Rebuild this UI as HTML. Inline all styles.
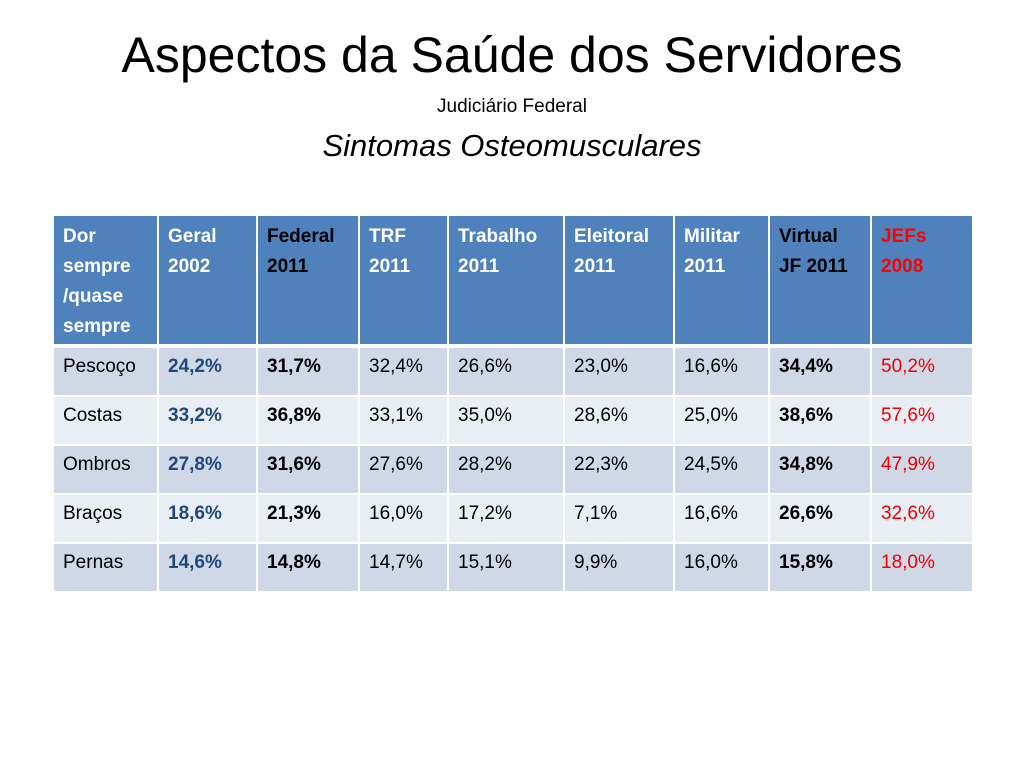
<!DOCTYPE html>
<html><head><meta charset="utf-8"><style>
body{margin:0;width:1024px;height:768px;background:#fff;font-family:"Liberation Sans",sans-serif;position:relative;overflow:hidden}
.t{position:absolute;left:0;width:1024px;text-align:center;color:#000}
table{position:absolute;left:52px;top:214px;border-collapse:collapse;table-layout:fixed}
td{border:2px solid #fff;padding:8px 0 0 9px;vertical-align:top;font-size:19px;white-space:nowrap}
thead td{background:#4F81BD;color:#fff;font-weight:bold;height:122px;line-height:30px;border-bottom:4px solid #fff;padding-top:6px}
tbody td{height:39px}
tbody tr:nth-child(odd) td{background:#D0D8E8}
tbody tr:nth-child(even) td{background:#E9EDF4}
.g{color:#1F497D;font-weight:bold}.b{font-weight:bold}.r{color:#E00}
thead .k{color:#000}thead .rr{color:#FF0000}
</style></head><body>
<div class="t" style="top:26px;font-size:50px">Aspectos da Saúde dos Servidores</div>
<div class="t" style="top:96px;font-size:19px">Judiciário Federal</div>
<div class="t" style="top:128px;font-size:31px;font-style:italic">Sintomas Osteomusculares</div>
<table>
<colgroup><col style="width:105px"><col style="width:99px"><col style="width:102px"><col style="width:89px"><col style="width:116px"><col style="width:110px"><col style="width:95px"><col style="width:102px"><col style="width:102px"></colgroup>
<thead><tr>
<td>Dor<br>sempre<br>/quase<br>sempre</td><td>Geral<br>2002</td><td class="k">Federal<br>2011</td><td>TRF<br>2011</td><td>Trabalho<br>2011</td><td>Eleitoral<br>2011</td><td>Militar<br>2011</td><td class="k">Virtual<br>JF 2011</td><td class="rr">JEFs<br>2008</td></tr></thead>
<tbody>
<tr><td>Pescoço</td><td class="g">24,2%</td><td class="b">31,7%</td><td>32,4%</td><td>26,6%</td><td>23,0%</td><td>16,6%</td><td class="b">34,4%</td><td class="r">50,2%</td></tr>
<tr><td>Costas</td><td class="g">33,2%</td><td class="b">36,8%</td><td>33,1%</td><td>35,0%</td><td>28,6%</td><td>25,0%</td><td class="b">38,6%</td><td class="r">57,6%</td></tr>
<tr><td>Ombros</td><td class="g">27,8%</td><td class="b">31,6%</td><td>27,6%</td><td>28,2%</td><td>22,3%</td><td>24,5%</td><td class="b">34,8%</td><td class="r">47,9%</td></tr>
<tr><td>Braços</td><td class="g">18,6%</td><td class="b">21,3%</td><td>16,0%</td><td>17,2%</td><td>7,1%</td><td>16,6%</td><td class="b">26,6%</td><td class="r">32,6%</td></tr>
<tr><td>Pernas</td><td class="g">14,6%</td><td class="b">14,8%</td><td>14,7%</td><td>15,1%</td><td>9,9%</td><td>16,0%</td><td class="b">15,8%</td><td class="r">18,0%</td></tr>
</tbody></table>
</body></html>
